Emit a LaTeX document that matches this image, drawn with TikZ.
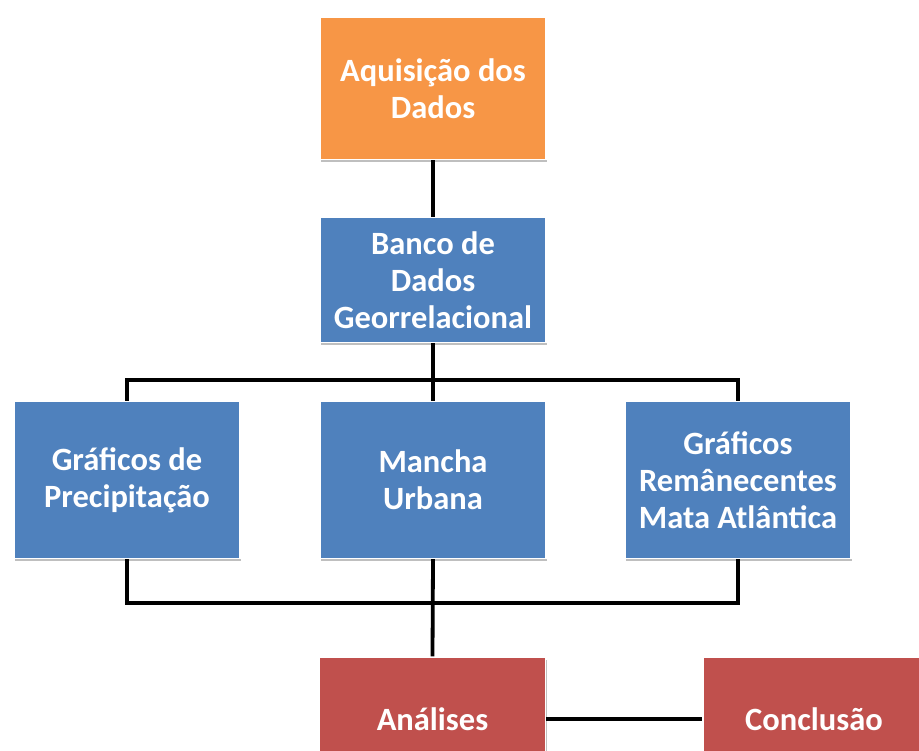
\documentclass[tikz,border=0pt]{standalone}
\usepackage{fontspec}
\setmainfont{Carlito}
\usetikzlibrary{shadows}
\definecolor{aqorange}{HTML}{F79646}
\definecolor{bdblue}{HTML}{4F81BD}
\definecolor{anred}{HTML}{C0504D}
\tikzset{
  box/.style={draw=white, line width=1.2pt, text=white, align=center,
    font=\fontsize{32.5}{37}\selectfont\bfseries, inner sep=0pt,
    drop shadow={shadow xshift=1pt, shadow yshift=-2.5pt, opacity=0.25, fill=black}},
  conn/.style={line width=3.8pt, black}
}
\begin{document}
\begin{tikzpicture}[x=1pt,y=-1pt]
\useasboundingbox (0,0) rectangle (919,751);
\clip (0,0) rectangle (919,751);
\node[box, fill=aqorange, minimum width=226pt, minimum height=142pt] (aq) at (433,88.5) {Aquisição dos\\Dados};
\node[box, fill=bdblue, minimum width=226pt, minimum height=125pt] (banco) at (433,280) {Banco de\\Dados\\Georrelacional};
\node[box, fill=bdblue, minimum width=226pt, minimum height=157pt] (prec) at (127,480) {Gráficos de\\Precipitação};
\node[box, fill=bdblue, minimum width=226pt, minimum height=157pt] (mancha) at (433,480) {Mancha\\Urbana};
\node[box, fill=bdblue, minimum width=226pt, minimum height=157pt] (rem) at (738,480) {Gráficos\\Remânecentes\\Mata Atlântica};
\node[box, fill=anred, minimum width=226pt, minimum height=124pt] (anal) at (432.5,719) {Análises};
\node[box, fill=anred, minimum width=222pt, minimum height=124pt] (conc) at (814,719) {Conclusão};
\coordinate (busT) at (433,380);
\coordinate (busB) at (433,603);
\draw[conn] (aq.south) -- (banco.north);
\draw[conn] (banco.south) -- (mancha.north);
\draw[conn] (prec.north) |- (busT) -| (rem.north);
\draw[conn] (prec.south) |- (busB) -| (rem.south);
\draw[conn] (mancha.south) -- (anal.north);
\draw[conn] (anal.east) -- (conc.west);
\end{tikzpicture}
\end{document}
